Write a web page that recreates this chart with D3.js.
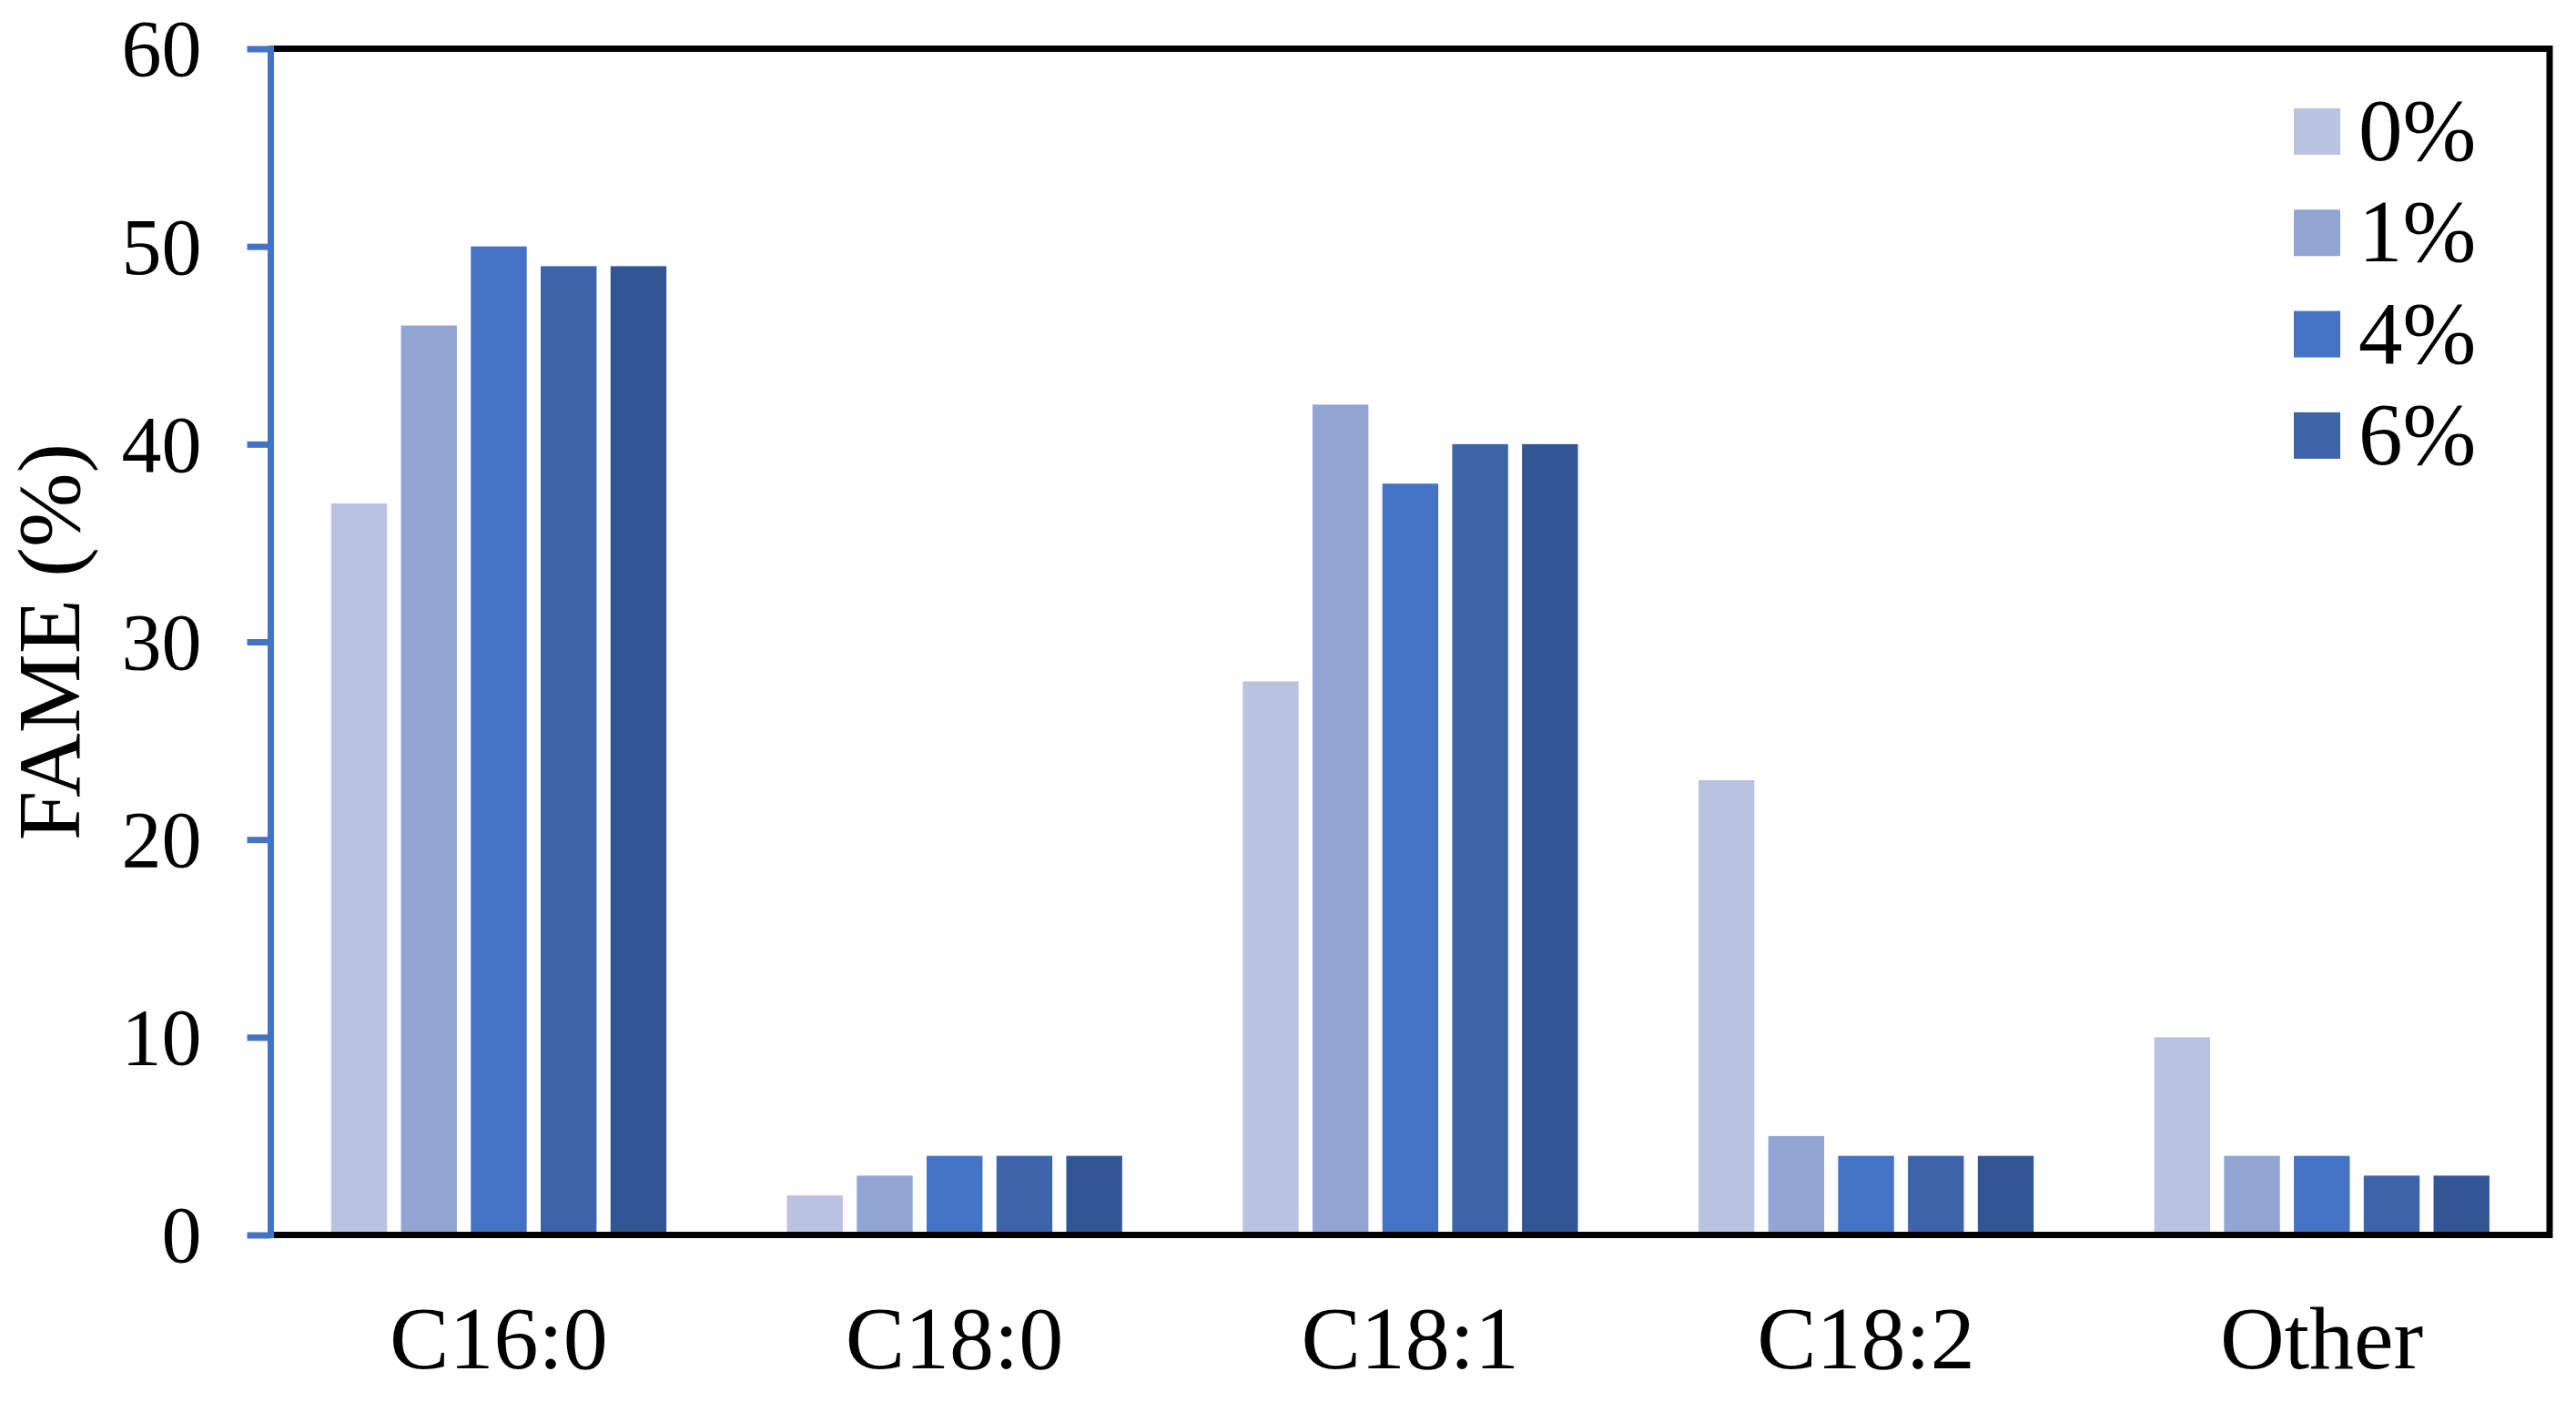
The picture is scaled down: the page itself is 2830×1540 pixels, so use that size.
<!DOCTYPE html>
<html>
<head>
<meta charset="utf-8">
<script src="https://cdn.jsdelivr.net/npm/d3@7"></script>
<style>
  html, body { margin: 0; padding: 0; background: #fff; }
  svg { display: block; }
  text { font-family: "Liberation Serif", "Times New Roman", serif; fill: #000; }
</style>
</head>
<body>
<svg id="chart" width="2830" height="1540"></svg>
<script>
// ---- data ----
const categories = ["C16:0", "C18:0", "C18:1", "C18:2", "Other"];
const seriesNames = ["0%", "1%", "4%", "6%", "series5"];
const legendNames = ["0%", "1%", "4%", "6%"];
const s0 = [37, 2, 28, 23, 10];
const s1 = [46, 3, 42, 5, 4];
const s2 = [50, 4, 38, 4, 4];
const s3 = [49, 4, 40, 4, 3];
const s4 = [49, 4, 40, 4, 3];
const seriesValues = [s0, s1, s2, s3, s4];
const yTicks = [0, 10, 20, 30, 40, 50, 60];
const colors = ["#B9C3E1", "#91A4D4", "#4472C4", "#3D64AA", "#325593"];

(function () {
// ---- layout ----
const svg = d3.select("#chart");
const pL = 297.5, pR = 2801, pT = 53.5, pB = 1356.5;

const x0 = d3.scaleBand().domain(categories).range([pL, pR]).paddingInner(0).paddingOuter(0);
const bw = x0.bandwidth();
const x1 = d3.scaleBand().domain(seriesNames)
  .range([bw * 0.1325, bw * 0.868]).paddingInner(0.2).paddingOuter(0);
const y = d3.scaleLinear().domain([0, 60]).range([pB, pT]);

// bars
const groups = svg.append("g").selectAll("g")
  .data(categories).join("g")
  .attr("transform", d => `translate(${x0(d)},0)`);
groups.selectAll("rect")
  .data((c, ci) => seriesNames.map((s, si) => ({ s, si, v: seriesValues[si][ci] })))
  .join("rect")
  .attr("x", d => x1(d.s))
  .attr("width", x1.bandwidth())
  .attr("y", d => y(d.v))
  .attr("height", d => y(0) - y(d.v))
  .attr("fill", d => colors[d.si]);

// frame (top, right, bottom) black
svg.append("path")
  .attr("d", `M${pL},${pT} L${pR},${pT} L${pR},${pB} L${pL},${pB}`)
  .attr("fill", "none").attr("stroke", "#000").attr("stroke-width", 7)
  .attr("stroke-linejoin", "miter").attr("stroke-linecap", "square");

// y axis (blue)
const yAxis = d3.axisLeft(y).tickValues(yTicks).tickSize(26).tickSizeOuter(0).tickPadding(50);
const gy = svg.append("g").attr("transform", `translate(${pL},0)`).call(yAxis);
gy.select(".domain").attr("stroke", "#4472C4").attr("stroke-width", 7)
  .attr("d", `M0,${pT - 3.5}V${pB + 3.5}`);
gy.selectAll(".tick line").attr("stroke", "#4472C4").attr("stroke-width", 7);
gy.selectAll(".tick text")
  .style("font-family", '"Liberation Serif", "Times New Roman", serif')
  .style("font-size", "88px").attr("fill", "#000").attr("dy", "0.335em");

// x category labels
svg.append("g").selectAll("text")
  .data(categories).join("text")
  .attr("x", d => x0(d) + bw / 2)
  .attr("y", 1503)
  .attr("text-anchor", "middle")
  .style("font-size", "98px")
  .text(d => d);

// y axis title
svg.append("text")
  .attr("transform", `translate(87,${(pT + pB) / 2}) rotate(-90)`)
  .attr("text-anchor", "middle")
  .style("font-size", "98px")
  .text("FAME (%)");

// legend
const leg = svg.append("g").selectAll("g")
  .data(legendNames).join("g")
  .attr("transform", (d, i) => `translate(2520,${119 + i * 111.3})`);
leg.append("rect").attr("width", 51).attr("height", 51).attr("fill", (d, i) => colors[i]);
leg.append("text").attr("x", 71).attr("y", 57).style("font-size", "97px").text(d => d);
})();
</script>
</body>
</html>
